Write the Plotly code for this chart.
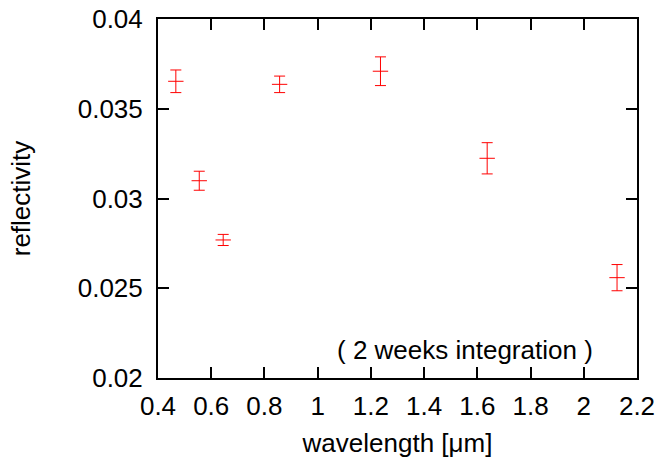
import plotly.graph_objects as go

wavelength = [0.467, 0.555, 0.645, 0.857, 1.236, 1.637, 2.125]
reflectivity = [0.03653, 0.03099, 0.02769, 0.03636, 0.03709, 0.03224, 0.02559]
error = [0.00063, 0.00053, 0.00031, 0.00046, 0.00080, 0.00087, 0.00073]

x_ticks = [0.4, 0.6, 0.8, 1.0, 1.2, 1.4, 1.6, 1.8, 2.0, 2.2]
x_tick_labels = ["0.4", "0.6", "0.8", "1", "1.2", "1.4", "1.6", "1.8", "2", "2.2"]
y_ticks = [0.02, 0.025, 0.03, 0.035, 0.04]
y_tick_labels = ["0.02", "0.025", "0.03", "0.035", "0.04"]

FONT = "Liberation Sans, Arial, sans-serif"
FS = 26

fig = go.Figure()
fig.add_trace(go.Scatter(
    x=wavelength, y=reflectivity, mode="markers",
    marker=dict(symbol="line-ew", size=11, color="#ff0000",
                line=dict(color="#ff0000", width=1)),
    error_y=dict(type="data", array=error, visible=True,
                 color="#ff0000", thickness=1, width=5.5),
    showlegend=False,
))

fig.add_annotation(
    text="( 2 weeks integration )", xref="paper", yref="paper",
    x=0.641, y=0.078, xanchor="center", yanchor="middle",
    showarrow=False, font=dict(size=FS, color="black", family=FONT),
)

axis_common = dict(
    showline=True, linewidth=2, linecolor="black", mirror="ticks",
    ticks="inside", ticklen=11, tickwidth=2, tickcolor="black",
    showgrid=False, zeroline=False, automargin=False,
    tickfont=dict(size=FS, color="black", family=FONT),
    title_font=dict(size=FS, color="black", family=FONT),
)

fig.update_xaxes(range=[0.4, 2.2], tickvals=x_ticks, ticktext=x_tick_labels,
                 title_text="wavelength [μm]", title_standoff=14,
                 ticklabelstandoff=4, **axis_common)
fig.update_yaxes(range=[0.02, 0.04], tickvals=y_ticks, ticktext=y_tick_labels,
                 title_text="reflectivity", title_standoff=40,
                 ticklabelstandoff=8, **axis_common)

fig.update_layout(
    width=660, height=458,
    margin=dict(l=158, r=23, t=19, b=80),
    paper_bgcolor="white", plot_bgcolor="white",
    font=dict(family=FONT, color="black"),
)

fig.write_html("out.html")
